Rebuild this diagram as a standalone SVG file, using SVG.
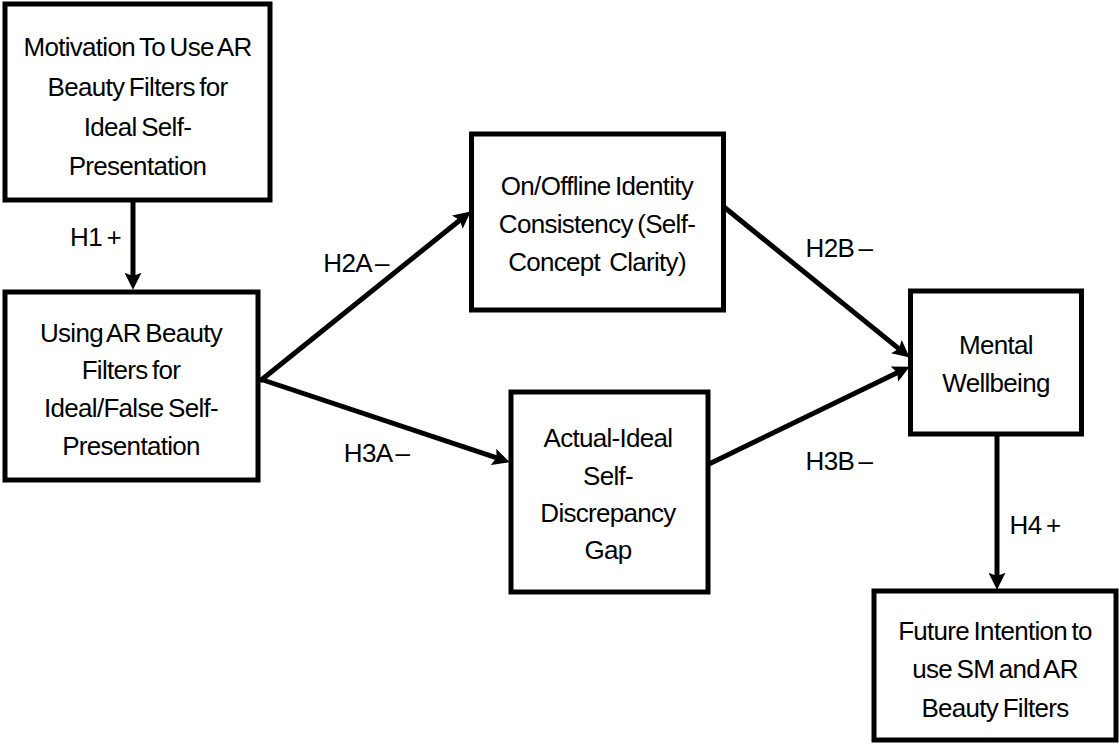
<svg xmlns="http://www.w3.org/2000/svg" width="1119" height="744" viewBox="0 0 1119 744">
<style>
.box{fill:#fff;stroke:#000;stroke-width:5}
.t{font-family:"Liberation Sans",Arial,sans-serif;font-size:26px;letter-spacing:-0.7px;word-spacing:-2px;fill:#000;text-anchor:middle}
.c{stroke:#000;stroke-width:5;fill:none;marker-end:url(#ah)}
</style>
<defs>
<marker id="ah" markerUnits="userSpaceOnUse" markerWidth="17" markerHeight="17" viewBox="0 0 16 16" refX="4" refY="8" orient="auto">
<path d="M0,0 L16,8 L0,16 L3,8 z" fill="#000"/>
</marker>
</defs>
<rect width="1119" height="744" fill="#fff"/>
<g id="connectors">
<line class="c" x1="133" y1="202" x2="133" y2="277"/>
<line class="c" x1="260" y1="381" x2="460.7" y2="219.5"/>
<line class="c" x1="260" y1="379" x2="497.6" y2="458.2"/>
<line class="c" x1="724" y1="207" x2="899.7" y2="349.4"/>
<line class="c" x1="709" y1="464" x2="898.2" y2="372.2"/>
<line class="c" x1="997" y1="436" x2="997" y2="577"/>
<text class="t" x="95.5" y="246">H1 +</text>
<text class="t" x="356" y="272">H2A –</text>
<text class="t" x="376.5" y="462">H3A –</text>
<text class="t" x="839" y="257">H2B –</text>
<text class="t" x="839" y="470">H3B –</text>
<text class="t" x="1035" y="534">H4 +</text>
</g>
<g id="motivation">
<rect class="box" x="5" y="4" width="265" height="196"/>
<text class="t" x="137.5" y="56">Motivation To Use AR</text>
<text class="t" x="137.5" y="96">Beauty Filters for</text>
<text class="t" x="137.5" y="136">Ideal Self-</text>
<text class="t" x="137.5" y="175">Presentation</text>
</g>
<g id="using">
<rect class="box" x="5" y="292" width="253" height="188"/>
<text class="t" x="131" y="342">Using AR Beauty</text>
<text class="t" x="131" y="379">Filters for</text>
<text class="t" x="131" y="417">Ideal/False Self-</text>
<text class="t" x="131" y="455">Presentation</text>
</g>
<g id="identity">
<rect class="box" x="471.5" y="134" width="252" height="176"/>
<text class="t" x="597" y="195">On/Offline Identity</text>
<text class="t" x="597" y="233">Consistency (Self-</text>
<text class="t" x="597" y="271" xml:space="preserve">Concept  Clarity)</text>
</g>
<g id="discrepancy">
<rect class="box" x="511" y="392" width="197" height="200"/>
<text class="t" x="608" y="447">Actual-Ideal</text>
<text class="t" x="608" y="485">Self-</text>
<text class="t" x="608" y="522">Discrepancy</text>
<text class="t" x="608" y="559">Gap</text>
</g>
<g id="wellbeing">
<rect class="box" x="910.5" y="291" width="171" height="143"/>
<text class="t" x="996" y="354">Mental</text>
<text class="t" x="996" y="392">Wellbeing</text>
</g>
<g id="future">
<rect class="box" x="874" y="591" width="242" height="149"/>
<text class="t" x="995" y="640">Future Intention to</text>
<text class="t" x="995" y="678">use SM and AR</text>
<text class="t" x="995" y="717">Beauty Filters</text>
</g>
</svg>
